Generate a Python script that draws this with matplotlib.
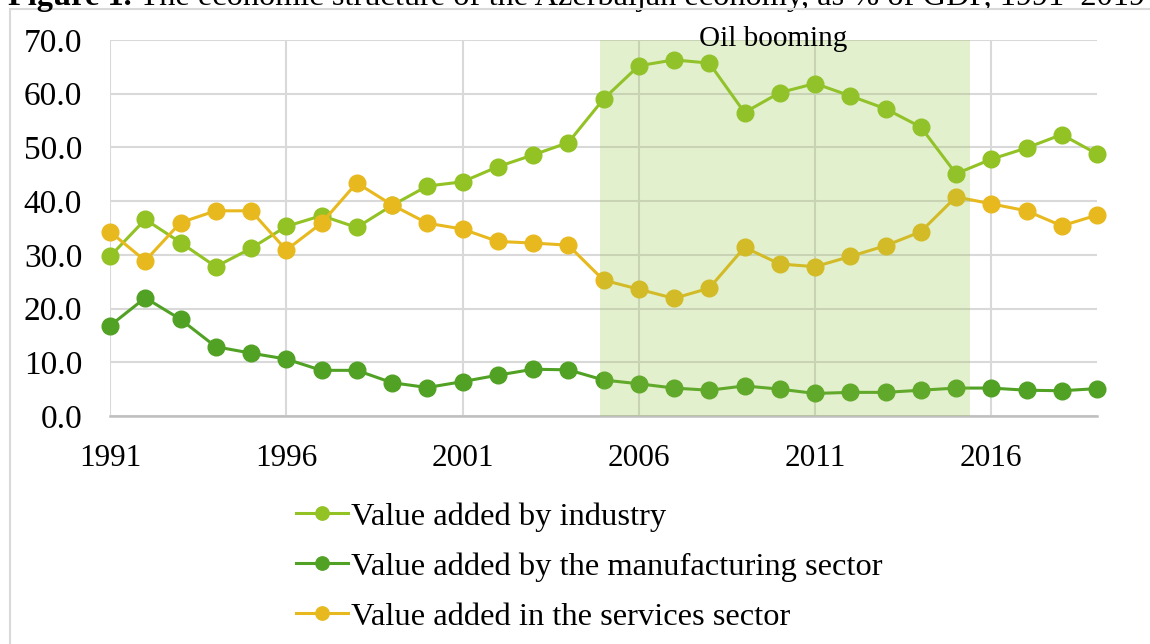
import matplotlib.pyplot as plt
from matplotlib.patches import Rectangle

plt.rcParams['font.family'] = ['Liberation Serif', 'DejaVu Serif']

years = list(range(1991, 2020))

# value added, % of GDP
industry = [29.7, 36.6, 32.3, 27.8, 31.2, 35.3, 37.3, 35.1, 39.2, 42.8,
            43.6, 46.4, 48.6, 50.9, 59.0, 65.2, 66.3, 65.7, 56.5, 60.2,
            61.9, 59.6, 57.2, 53.8, 45.1, 47.8, 49.9, 52.4, 48.8]
manufacturing = [16.8, 22.0, 18.0, 12.9, 11.7, 10.6, 8.5, 8.5, 6.2, 5.3,
                 6.4, 7.6, 8.7, 8.6, 6.7, 6.0, 5.2, 4.8, 5.6, 5.0,
                 4.2, 4.4, 4.4, 4.8, 5.2, 5.2, 4.8, 4.7, 5.1]
services = [34.3, 28.9, 36.0, 38.2, 38.2, 30.9, 35.9, 43.4, 39.3, 35.9,
            34.8, 32.5, 32.2, 31.8, 25.3, 23.6, 21.9, 23.8, 31.4, 28.3,
            27.8, 29.7, 31.7, 34.3, 40.8, 39.5, 38.2, 35.4, 37.4]

labels = ['Value added by industry',
          'Value added by the manufacturing sector',
          'Value added in the services sector']
colors = ['#92C224', '#51A124', '#E8B91E']

boom_start, boom_end = 2004.9, 2015.4

fig = plt.figure(figsize=(11.5, 6.44), dpi=100)
ax = fig.add_axes([110 / 1150, 1 - 416 / 644, 987 / 1150, 376 / 644])

for series, lab, col in zip([industry, manufacturing, services], labels, colors):
    ax.plot(years, series, color=col, lw=2.2, marker='o', ms=12,
            label=lab, zorder=3, clip_on=False)

# translucent band over the oil boom years
ax.axvspan(boom_start, boom_end, color='#92C43E', alpha=0.25, lw=0, zorder=4)
ax.text(2009.8, 68.9, 'Oil booming', ha='center',
        va='baseline', fontsize=21, zorder=5)

ax.set_xlim(1991, 2019)
ax.set_ylim(0, 70)
ax.set_xticks(range(1991, 2020, 5))
ax.set_yticks(range(0, 71, 10))
ax.set_yticklabels([f'{v:.1f}' for v in range(0, 71, 10)])
ax.tick_params(axis='y', labelsize=24, length=0, pad=20)
ax.tick_params(axis='x', labelsize=22.5, length=0, pad=20)
ax.grid(True, color='#D9D9D9', lw=1.5)
ax.set_axisbelow(True)
for side in ['top', 'right', 'left']:
    ax.spines[side].set_visible(False)
ax.spines['bottom'].set_color('#BFBFBF')
ax.spines['bottom'].set_linewidth(1.8)

handles, labs = ax.get_legend_handles_labels()
leg = fig.legend(handles, labs, loc='upper left',
                 bbox_to_anchor=(296 / 1150, 1 - 502 / 644),
                 frameon=False, fontsize=23.4, handlelength=1.6,
                 handletextpad=0.1, labelspacing=0.62, borderpad=0,
                 borderaxespad=0, markerscale=0.8)

# chart border, running off the right and bottom edges
fig.add_artist(Rectangle((10 / 1150, -0.1), 1.2, 0.1 + 634.5 / 644,
                         transform=fig.transFigure, fill=False,
                         ec='#D9D9D9', lw=1.5))

# figure caption, partly above the top edge
cap = fig.text(8 / 1150, 1 - 5 / 644, 'Figure 1.', fontsize=23.3,
               fontweight='bold', va='baseline')
ax.annotate(' The economic structure of the Azerbaijan economy, '
            'as % of GDP, 1991\u20132019', xy=(1, 0), xycoords=cap,
            va='bottom', ha='left', fontsize=23.3, annotation_clip=False)

fig.savefig('out.png', dpi=100)
